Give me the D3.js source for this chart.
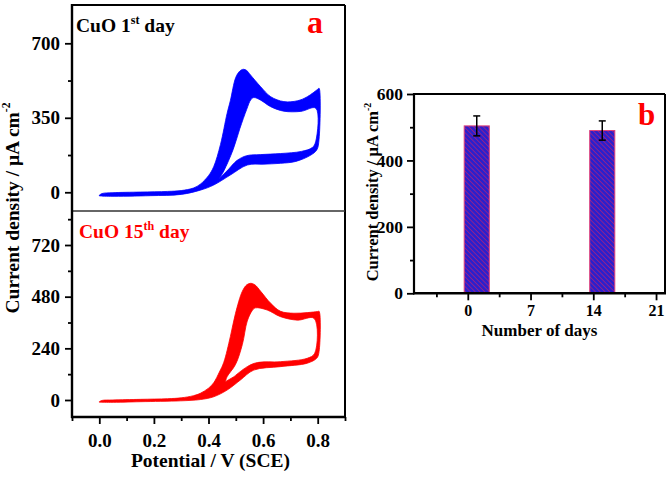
<!DOCTYPE html>
<html>
<head>
<meta charset="utf-8">
<script src="https://cdn.jsdelivr.net/npm/d3@7"></script>
<style>
  html, body { margin: 0; padding: 0; background: #fff; }
  svg { display: block; }
  text { font-family: "Liberation Serif", "Times New Roman", serif; font-weight: bold; }
</style>
</head>
<body>
<svg id="chart" width="667" height="477"></svg>
<script>
// ---------- DATA ----------
// CV band of CuO, 1st day: outer envelope and inner hole of the overlapping cycles [V, j]
const day1Outer = [[0.0,-14],[0.01,-6],[0.05,-2],[0.15,1],[0.25,4],[0.30,8],[0.345,20],[0.37,38],[0.40,78],[0.419,120],[0.444,225],[0.468,370],[0.48,430],[0.50,540],[0.515,570],[0.528,578],[0.54,572],[0.554,551],[0.591,496],[0.628,449],[0.676,426],[0.726,430],[0.762,449],[0.80,484],[0.805,489],[0.805,250],[0.797,200],[0.775,175],[0.72,145],[0.664,136],[0.60,132],[0.542,128],[0.48,81],[0.419,34],[0.37,10],[0.30,-10],[0.187,-16],[0.04,-19],[0.0,-17]];
const day1Inner = [[0.44,65],[0.456,100],[0.49,200],[0.515,300],[0.54,390],[0.555,435],[0.566,445],[0.591,433],[0.628,402],[0.676,381],[0.738,380],[0.793,395],[0.793,240],[0.78,210],[0.74,192],[0.664,182],[0.59,177],[0.54,172],[0.505,150],[0.475,110]];
// CV band of CuO, 15th day
const day15Outer = [[0.0,-8],[0.01,-2],[0.05,0],[0.15,3],[0.25,6],[0.30,10],[0.345,20],[0.37,31],[0.40,55],[0.419,80],[0.44,130],[0.456,175],[0.48,294],[0.499,403],[0.524,505],[0.54,535],[0.554,542],[0.57,535],[0.591,505],[0.628,449],[0.664,412],[0.713,403],[0.762,406],[0.80,411],[0.805,412],[0.805,225],[0.797,195],[0.762,171],[0.664,155],[0.566,139],[0.517,93],[0.468,46],[0.419,15],[0.37,2],[0.297,-4],[0.15,-8],[0.04,-11],[0.0,-10]];
const day15Inner = [[0.462,85],[0.468,108],[0.499,165],[0.524,258],[0.542,367],[0.56,415],[0.572,428],[0.615,418],[0.664,387],[0.726,371],[0.787,379],[0.789,217],[0.762,194],[0.664,178],[0.579,174],[0.542,155],[0.493,108]];

// Bar chart (panel b)
const days = [1, 15];
const currentDensity = [504, 490];
const currentError = [30, 29];

// Tick values
const potentialTicks = [0, 0.2, 0.4, 0.6, 0.8];
const potentialMinor = [-0.1, 0.1, 0.3, 0.5, 0.7, 0.9];
const topTicks = [0, 350, 700];
const topMinor = [175, 525];
const bottomTicks = [0, 240, 480, 720];
const bottomMinor = [120, 360, 600, 840];
const barYTicks = [0, 200, 400, 600];
const barYMinor = [100, 300, 500];
const dayTicks = [0, 7, 14, 21];
const dayMinor = [-3.5, 3.5, 10.5, 17.5];

// ---------- DRAW ----------
const svg = d3.select("#chart");
const FS = 19;

function styleAxis(g, fs) {
  g.select(".domain").remove();
  g.selectAll(".tick line").attr("stroke", "#000").attr("stroke-width", 1.8);
  g.selectAll(".tick text").attr("fill", "#000").style("font-size", fs + "px")
    .style("font-family", '"Liberation Serif", serif').style("font-weight", "bold");
}

// ---- Panel a ----
const L = 72, R = 345, T = 5, MID = 211, B = 417;
const x = d3.scaleLinear().domain([-0.1, 0.9]).range([L, R]);
const yTop = d3.scaleLinear().domain([-88, 880]).range([MID, T]);
const yBot = d3.scaleLinear().domain([-79, 878]).range([B, MID]);

function bandPath(outer, inner, y) {
  const line = d3.line().x(d => x(d[0])).y(d => y(d[1])).curve(d3.curveCatmullRom.alpha(0.5));
  return line(outer) + "Z" + line(inner) + "Z";
}

svg.append("path").attr("d", bandPath(day1Outer, day1Inner, yTop))
  .attr("fill", "#0000ff").attr("fill-rule", "evenodd")
  .attr("stroke", "#0000ff").attr("stroke-width", 0.8).attr("stroke-linejoin", "round");
svg.append("path").attr("d", bandPath(day15Outer, day15Inner, yBot))
  .attr("fill", "#ff0000").attr("fill-rule", "evenodd")
  .attr("stroke", "#ff0000").attr("stroke-width", 0.8).attr("stroke-linejoin", "round");

// axes panel a
svg.append("g").attr("transform", `translate(${L},0)`)
  .call(d3.axisLeft(yTop).tickValues(topTicks).tickSize(7).tickPadding(5).tickFormat(d3.format("d")))
  .call(g => styleAxis(g, FS));
svg.append("g").attr("transform", `translate(${L},0)`)
  .call(d3.axisLeft(yTop).tickValues(topMinor).tickSize(4).tickFormat(""))
  .call(g => styleAxis(g, FS));
svg.append("g").attr("transform", `translate(${L},0)`)
  .call(d3.axisLeft(yBot).tickValues(bottomTicks).tickSize(7).tickPadding(5).tickFormat(d3.format("d")))
  .call(g => styleAxis(g, FS));
svg.append("g").attr("transform", `translate(${L},0)`)
  .call(d3.axisLeft(yBot).tickValues(bottomMinor).tickSize(4).tickFormat(""))
  .call(g => styleAxis(g, FS));
svg.append("g").attr("transform", `translate(0,${B})`)
  .call(d3.axisBottom(x).tickValues(potentialTicks).tickSize(7).tickPadding(10).tickFormat(d3.format(".1f")))
  .call(g => styleAxis(g, FS));
svg.append("g").attr("transform", `translate(0,${B})`)
  .call(d3.axisBottom(x).tickValues(potentialMinor).tickSize(4).tickFormat(""))
  .call(g => styleAxis(g, FS));

// frame panel a
const frame = svg.append("g").attr("stroke", "#000").attr("fill", "none");
frame.append("line").attr("x1", L).attr("x2", R).attr("y1", T).attr("y2", T).attr("stroke-width", 2);
frame.append("line").attr("x1", R).attr("x2", R).attr("y1", T).attr("y2", B).attr("stroke-width", 2);
frame.append("line").attr("x1", L).attr("x2", R).attr("y1", MID).attr("y2", MID).attr("stroke-width", 1.3).attr("stroke", "#333");
frame.append("line").attr("x1", L).attr("x2", L).attr("y1", T - 1).attr("y2", B + 1).attr("stroke-width", 2.4);
frame.append("line").attr("x1", L - 1).attr("x2", R + 1).attr("y1", B).attr("y2", B).attr("stroke-width", 2.6);

// labels panel a
function labelWithSup(sel, main, sup, rest, fs) {
  sel.append("tspan").text(main);
  sel.append("tspan").text(sup).attr("dy", -fs * 0.42).style("font-size", (fs * 0.62) + "px");
  sel.append("tspan").text(rest).attr("dy", fs * 0.42);
}
labelWithSup(svg.append("text").attr("x", 76).attr("y", 32).attr("fill", "#000").style("font-size", "19.5px"),
  "CuO 1", "st", " day", 19.5);
labelWithSup(svg.append("text").attr("x", 79).attr("y", 238).attr("fill", "#ff0000").style("font-size", "19.5px"),
  "CuO 15", "th", " day", 19.5);
svg.append("text").attr("x", 307).attr("y", 33).attr("fill", "#ff0000").style("font-size", "32px").text("a");

svg.append("text").attr("x", (L + R) / 2 + 2).attr("y", 467).attr("text-anchor", "middle")
  .attr("fill", "#000").style("font-size", "19.5px").text("Potential / V (SCE)");

function yTitle(cx, cy, fs) {
  const t = svg.append("text").attr("transform", `translate(${cx},${cy}) rotate(-90)`)
    .attr("text-anchor", "middle").attr("fill", "#000").style("font-size", fs + "px");
  t.append("tspan").text("Current density / μA cm");
  t.append("tspan").text("-2").attr("dy", -fs * 0.45).style("font-size", (fs * 0.6) + "px");
}
yTitle(19, 208, 19.5);

// ---- Panel b ----
const bL = 414, bR = 665, bT = 94, bB = 293.3;
const xb = d3.scaleLinear().domain([-6, 22]).range([bL, bR]);
const yb = d3.scaleLinear().domain([0, 600]).range([bB, bT]);
const barW = 2.8;

const defs = svg.append("defs");
const pat = defs.append("pattern").attr("id", "hatch").attr("patternUnits", "userSpaceOnUse")
  .attr("width", 3.4).attr("height", 3.4).attr("patternTransform", "rotate(-45)");
pat.append("rect").attr("width", 3.4).attr("height", 3.4).attr("fill", "#2b20cc");
pat.append("line").attr("x1", 0).attr("y1", 0).attr("x2", 0).attr("y2", 3.4)
  .attr("stroke", "#b0207a").attr("stroke-width", 1.4);

svg.append("g").selectAll("rect").data(days).join("rect")
  .attr("x", d => xb(d - barW / 2))
  .attr("width", d => xb(d + barW / 2) - xb(d - barW / 2))
  .attr("y", (d, i) => yb(currentDensity[i]))
  .attr("height", (d, i) => yb(0) - yb(currentDensity[i]))
  .attr("fill", "url(#hatch)").attr("stroke", "#e0407a").attr("stroke-width", 1);

const eb = svg.append("g").attr("stroke", "#000").attr("stroke-width", 1.5);
days.forEach((d, i) => {
  const cx = xb(d), hi = yb(currentDensity[i] + currentError[i]), lo = yb(currentDensity[i] - currentError[i]);
  eb.append("line").attr("x1", cx).attr("x2", cx).attr("y1", hi).attr("y2", lo);
  eb.append("line").attr("x1", cx - 3.5).attr("x2", cx + 3.5).attr("y1", hi).attr("y2", hi);
  eb.append("line").attr("x1", cx - 3.5).attr("x2", cx + 3.5).attr("y1", lo).attr("y2", lo);
});

svg.append("g").attr("transform", `translate(${bL},0)`)
  .call(d3.axisLeft(yb).tickValues(barYTicks).tickSize(7).tickPadding(4).tickFormat(d3.format("d")))
  .call(g => styleAxis(g, 17.5));
svg.append("g").attr("transform", `translate(${bL},0)`)
  .call(d3.axisLeft(yb).tickValues(barYMinor).tickSize(4).tickFormat(""))
  .call(g => styleAxis(g, 17.5));
svg.append("g").attr("transform", `translate(0,${bB})`)
  .call(d3.axisBottom(xb).tickValues(dayTicks).tickSize(7).tickPadding(4.5).tickFormat(d3.format("d")))
  .call(g => styleAxis(g, 16));
svg.append("g").attr("transform", `translate(0,${bB})`)
  .call(d3.axisBottom(xb).tickValues(dayMinor).tickSize(4).tickFormat(""))
  .call(g => styleAxis(g, 16));

const fb = svg.append("g").attr("stroke", "#000").attr("fill", "none");
fb.append("line").attr("x1", bL).attr("x2", bR).attr("y1", bT).attr("y2", bT).attr("stroke-width", 2);
fb.append("line").attr("x1", bR).attr("x2", bR).attr("y1", bT).attr("y2", bB).attr("stroke-width", 2);
fb.append("line").attr("x1", bL).attr("x2", bL).attr("y1", bT - 1).attr("y2", bB + 1).attr("stroke-width", 2.2);
fb.append("line").attr("x1", bL - 1).attr("x2", bR + 1).attr("y1", bB).attr("y2", bB).attr("stroke-width", 2.4);

svg.append("text").attr("x", 638).attr("y", 125).attr("fill", "#ff0000").style("font-size", "31px").text("b");
svg.append("text").attr("x", (bL + bR) / 2).attr("y", 336).attr("text-anchor", "middle")
  .attr("fill", "#000").style("font-size", "17px").text("Number of days");
yTitle(378, 192, 16.5);
</script>
</body>
</html>
